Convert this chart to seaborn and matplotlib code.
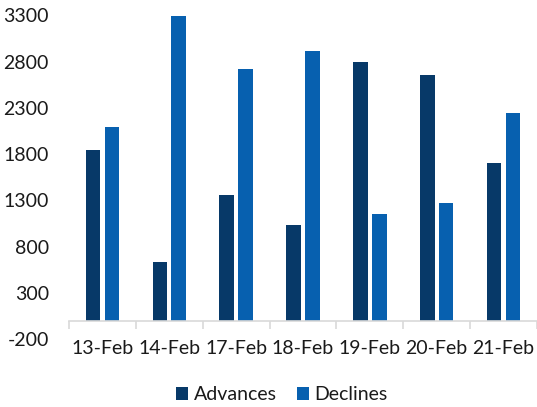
import matplotlib
matplotlib.use("Agg")
import matplotlib.pyplot as plt
import numpy as np
import pandas as pd
import seaborn as sns
from matplotlib.patches import Patch

dates = ["13-Feb", "14-Feb", "17-Feb", "18-Feb", "19-Feb", "20-Feb", "21-Feb"]
advances = [1850, 630, 1355, 1030, 2800, 2660, 1700]
declines = [2090, 3290, 2720, 2910, 1150, 1270, 2240]
series = ["Advances", "Declines"]
colors = ["#073968", "#0760AF"]
y_ticks = [-200, 300, 800, 1300, 1800, 2300, 2800, 3300]

df = pd.DataFrame({
    "date": dates * 2,
    "series": [series[0]] * len(dates) + [series[1]] * len(dates),
    "value": advances + declines,
})

sns.set_theme(style="white")
plt.rcParams["font.family"] = ["Lato", "DejaVu Sans"]
text_color = "#1a1a1a"

fig = plt.figure(figsize=(5.37, 4.07), dpi=100)
ax = fig.add_axes([0.1285, 0.1663, 0.8715, 0.7961])

sns.barplot(data=df, x="date", y="value", hue="series", order=dates,
            hue_order=series, palette=colors, width=0.567, gap=0.23,
            saturation=1, linewidth=0, legend=False, ax=ax)

ax.set_ylim(-200, 3300)
ax.set_xlim(-0.5, len(dates) - 0.5)
ax.set_yticks(y_ticks)
ax.set_yticklabels([str(t) for t in y_ticks])
ax.tick_params(axis="y", length=0, pad=14.4, labelsize=14, labelcolor=text_color)

# x axis sits at zero, ticks between categories, labels at centres
ax.spines["bottom"].set_position(("data", 0))
ax.spines["bottom"].set_color("#d9d9d9")
ax.spines["bottom"].set_linewidth(1.2)
for s in ["left", "right", "top"]:
    ax.spines[s].set_visible(False)
ax.set_xticks(np.arange(len(dates) + 1) - 0.5)
ax.set_xticklabels([])
ax.tick_params(axis="x", which="major", length=6, width=1.2, color="#d9d9d9",
               direction="out", bottom=True)
ax.set_xticks(np.arange(len(dates)), minor=True)
ax.set_xticklabels(dates, minor=True)
ax.tick_params(axis="x", which="minor", length=0, pad=13.5, labelsize=14,
               labelcolor=text_color)
ax.set_xlabel("")
ax.set_ylabel("")
ax.grid(False)

handles = [Patch(facecolor=c, edgecolor="none") for c in colors]
fig.legend(handles, series, loc="center", bbox_to_anchor=(0.525, 0.03),
           ncol=2, frameon=False, fontsize=14, handlelength=0.62,
           handleheight=0.62, handletextpad=0.3, columnspacing=1.0,
           borderaxespad=0, borderpad=0, labelcolor=text_color)

fig.savefig("out.png", dpi=100)
